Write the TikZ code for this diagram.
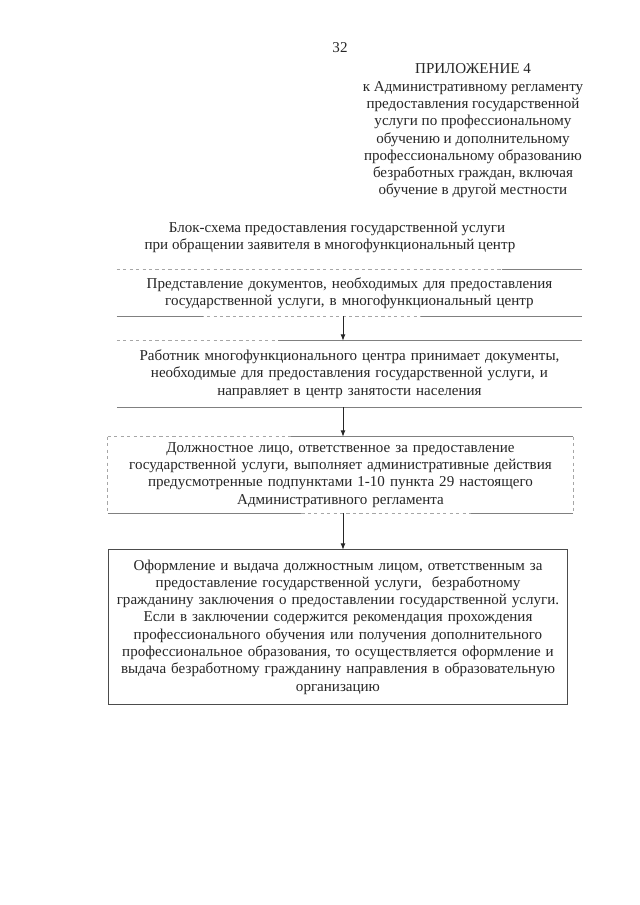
\documentclass[tikz,border=0pt]{standalone}
\usepackage{fontspec}
\setmainfont{Liberation Serif}
\usetikzlibrary{arrows.meta}
\begin{document}
\begin{tikzpicture}[x=0.9301pt,y=-0.9301pt,
  txt/.style={font=\fontsize{14}{16.1}\selectfont, text=black!85, inner sep=0pt, align=center},
  faint/.style={draw=black!50, line width=0.7pt},
  dfaint/.style={draw=black!35, line width=0.6pt, dash pattern=on 3pt off 3pt},
  solidbox/.style={draw=black!70, line width=0.8pt},
  arr/.style={draw=black!85, line width=0.8pt, -{Latex[length=6pt,width=4.5pt]}}]
\fill[white] (0,0) rectangle (640,905);
\useasboundingbox (0,0) rectangle (640,905);

\node[txt] (pnum) at (340,48) {32};
\node[txt] (hdr) at (473,131) {ПРИЛОЖЕНИЕ 4\\к Административному регламенту\\предоставления государственной\\услуги по профессиональному\\обучению и дополнительному\\профессиональному образованию\\безработных граждан, включая\\обучение в другой местности};

\node[txt] (t1) at (337,229) {Блок-схема предоставления государственной услуги};
\node[txt] (t2) at (330,246) {при обращении заявителя в многофункциональный центр};

\node[txt, text width={465*0.9301pt}, minimum height={46*0.9301pt}] (b1) at (349.5,293)
  {Представление документов, необходимых для предоставления\\государственной услуги, в многофункциональный центр};
\node[txt, text width={465*0.9301pt}, minimum height={66*0.9301pt}] (b2) at (349.5,374)
  {Работник многофункционального центра принимает документы,\\необходимые для предоставления государственной услуги, и\\направляет в центр занятости населения};
\node[txt, text width={465*0.9301pt}, minimum height={76*0.9301pt}] (b3) at (340.5,475)
  {Должностное лицо, ответственное за предоставление\\государственной услуги, выполняет административные действия\\предусмотренные подпунктами 1-10 пункта 29 настоящего\\Административного регламента};
\node[txt, text width={458*0.9301pt}, minimum height={154*0.9301pt}] (b4) at (338,627)
  {Оформление и выдача должностным лицом, ответственным за\\предоставление государственной услуги,\ \ безработному\\гражданину заключения о предоставлении государственной услуги.\\Если в заключении содержится рекомендация прохождения\\профессионального обучения или получения дополнительного\\профессиональное образования, то осуществляется оформление и\\выдача безработному гражданину направления в образовательную\\организацию};

% box 1 (faded borders)
\draw[dfaint] (b1.north west) -- (b1.north east);
\draw[faint] ([xshift=-75pt]b1.north east) -- (b1.north east);
\draw[dfaint] (b1.south west) -- (b1.south east);
\draw[faint] (b1.south west) -- ([xshift=80pt]b1.south west);
\draw[faint] ([xshift=-150pt]b1.south east) -- (b1.south east);
% box 2
\draw[dfaint] (b2.north west) -- (b2.north east);
\draw[faint] ([xshift=150pt]b2.north west) -- (b2.north east);
\draw[faint] (b2.south west) -- (b2.south east);
% box 3
\draw[faint] ([xshift=170pt]b3.north west) -- (b3.north east);
\draw[dfaint] (b3.north west) -- ([xshift=170pt]b3.north west);
\draw[dfaint] (b3.north west) -- (b3.south west);
\draw[dfaint] (b3.north east) -- (b3.south east);
\draw[faint] (b3.south west) -- ([xshift=180pt]b3.south west);
\draw[dfaint] ([xshift=180pt]b3.south west) -- (b3.south east);
\draw[faint] ([xshift=-95pt]b3.south east) -- (b3.south east);
% box 4
\draw[solidbox] (b4.north west) rectangle (b4.south east);

% connectors
\coordinate (ax) at (343,0);
\draw[arr] (b1.south -| ax) -- (b2.north -| ax);
\draw[arr] (b2.south -| ax) -- (b3.north -| ax);
\draw[arr] (b3.south -| ax) -- (b4.north -| ax);
\end{tikzpicture}
\end{document}
